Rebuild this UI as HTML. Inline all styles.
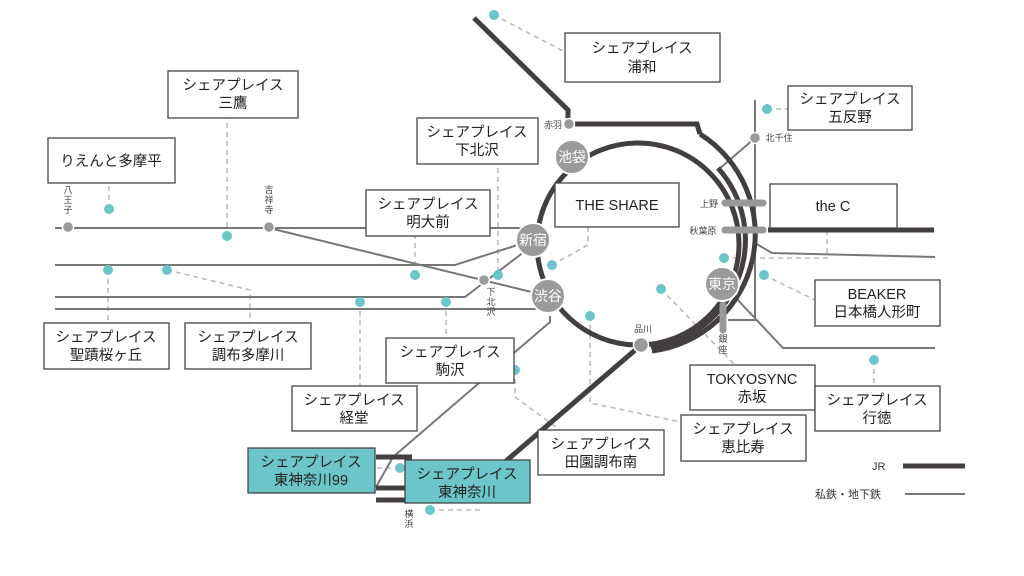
<!DOCTYPE html>
<html><head><meta charset="utf-8"><style>
html,body{margin:0;padding:0;background:#fff;}
svg{display:block;font-family:"Liberation Sans","Noto Sans CJK JP",sans-serif;}
.b{fill:#fff;stroke:#444;stroke-width:1.3}
.bt{font-size:14.5px;fill:#222;text-anchor:middle}
.d{stroke:#bbb;stroke-width:1.6;stroke-dasharray:5 4;fill:none}
.g{stroke:#777;stroke-width:2;fill:none}
.jr{stroke:#433e40;stroke-width:5;fill:none}
.dot{fill:#6cc5c9}
.st{font-size:9px;fill:#444;text-anchor:middle}
.big{fill:#9b9a9a;stroke:#fff;stroke-width:2}
.bigt{font-size:14px;fill:#fff;text-anchor:middle}
</style></head><body>
<svg width="1024" height="576" viewBox="0 0 1024 576">
<path class="d" d="M494,15 L565,52"/>
<path class="d" d="M767,109 L788,109"/>
<path class="d" d="M109,209 L109,183"/>
<path class="d" d="M227,236 L227,118"/>
<path class="d" d="M108,270 L108,323"/>
<path class="d" d="M167,270 L250,290 L250,323"/>
<path class="d" d="M415,275 L415,236"/>
<path class="d" d="M498,272 L498,164"/>
<path class="d" d="M552,265 L588,245 L588,227"/>
<path class="d" d="M360,302 L360,386"/>
<path class="d" d="M446,302 L446,338"/>
<path class="d" d="M590,316 L590,403 L681,422"/>
<path class="d" d="M661,289 L735,365"/>
<path class="d" d="M724,258 L827,258 L827,228"/>
<path class="d" d="M764,275 L815,300"/>
<path class="d" d="M874,360 L874,386"/>
<path class="d" d="M515,370 L515,397 L560,430"/>
<path class="d" d="M400,468 L375,468"/>
<path class="d" d="M430,510 L480,510"/>
<path class="g" d="M55,228 L533,228"/>
<path class="g" d="M269,228 L548,296"/>
<path class="g" d="M55,265 L455,265 L533,240"/>
<path class="g" d="M55,297 L465,297 L533,245"/>
<path class="g" d="M55,309 L548,309"/>
<path class="g" d="M550,316 L550,322 L393,457 L376,487"/>
<path class="g" d="M755,100 L755,320 L728,320"/>
<path class="g" d="M755,138 L718,170"/>
<path class="g" d="M755,243 L772,253 L935,257"/>
<path class="g" d="M735,297 L783,348 L935,348"/>
<path class="jr" d="M474,18 L568,110 L568,124 L697,124 L700,134"/>
<circle class="jr" cx="638" cy="244" r="101"/>
<path class="jr" d="M700,134 A118 118 0 0 1 652,351"/>
<path class="jr" d="M718,168 A108 108 0 0 1 651,347"/>
<path class="jr" d="M641,345 L470,492"/>
<path class="jr" d="M768,230 L934,230"/>
<path d="M376,457 L412,457 M376,488 L412,488 M376,500 L412,500" stroke="#433e40" stroke-width="5"/>
<path d="M725,203 L763,203 M725,230 L763,230" stroke="#999" stroke-width="7" stroke-linecap="round"/>
<path d="M723,305 L723,330" stroke="#999" stroke-width="7" stroke-linecap="round"/>
<g fill="#999" stroke="#fff" stroke-width="1.5">
<circle cx="68" cy="227" r="5.5"/><circle cx="269" cy="227" r="5.5"/>
<circle cx="569" cy="124" r="5.5"/><circle cx="755" cy="138" r="5.5"/>
<circle cx="484" cy="280" r="5.5"/><circle cx="641" cy="345" r="7.5"/>
</g>
<circle class="big" cx="572" cy="157" r="17"/><text class="bigt" x="572" y="162">池袋</text>
<circle class="big" cx="533" cy="240" r="17"/><text class="bigt" x="533" y="245">新宿</text>
<circle class="big" cx="548" cy="296" r="17"/><text class="bigt" x="548" y="301">渋谷</text>
<circle class="big" cx="722" cy="284" r="17"/><text class="bigt" x="722" y="289">東京</text>
<g class="st">
<text x="68" y="193">八</text><text x="68" y="203">王</text><text x="68" y="213">子</text>
<text x="269" y="193">吉</text><text x="269" y="203">祥</text><text x="269" y="213">寺</text>
<text x="553" y="128">赤羽</text><text x="779" y="141">北千住</text>
<text x="491" y="295">下</text><text x="491" y="305">北</text><text x="491" y="315">沢</text>
<text x="643" y="332">品川</text>
<text x="709" y="207">上野</text><text x="703" y="234">秋葉原</text>
<text x="723" y="342">銀</text><text x="723" y="353">座</text>
<text x="409" y="517">横</text><text x="409" y="527">浜</text>
</g>
<g class="dot">
<circle cx="494" cy="15" r="5"/><circle cx="767" cy="109" r="5"/><circle cx="109" cy="209" r="5"/>
<circle cx="227" cy="236" r="5"/><circle cx="108" cy="270" r="5"/><circle cx="167" cy="270" r="5"/>
<circle cx="415" cy="275" r="5"/><circle cx="498" cy="275" r="5"/><circle cx="552" cy="265" r="5"/>
<circle cx="360" cy="302" r="5"/><circle cx="446" cy="302" r="5"/><circle cx="590" cy="316" r="5"/>
<circle cx="661" cy="289" r="5"/><circle cx="724" cy="258" r="5"/><circle cx="764" cy="275" r="5"/>
<circle cx="874" cy="360" r="5"/><circle cx="515" cy="370" r="5"/><circle cx="400" cy="468" r="5"/>
<circle cx="430" cy="510" r="5"/>
</g>
<rect class="b" x="565" y="33" width="155" height="49"/><text class="bt" x="642" y="53">シェアプレイス</text><text class="bt" x="642" y="72">浦和</text>
<rect class="b" x="168" y="71" width="130" height="47"/><text class="bt" x="233" y="90">シェアプレイス</text><text class="bt" x="233" y="108">三鷹</text>
<rect class="b" x="48" y="138" width="127" height="45"/><text class="bt" x="111" y="166">りえんと多摩平</text>
<rect class="b" x="417" y="118" width="121" height="46"/><text class="bt" x="477" y="137">シェアプレイス</text><text class="bt" x="477" y="155">下北沢</text>
<rect class="b" x="788" y="86" width="124" height="44"/><text class="bt" x="850" y="104">シェアプレイス</text><text class="bt" x="850" y="122">五反野</text>
<rect class="b" x="366" y="190" width="124" height="46"/><text class="bt" x="428" y="209">シェアプレイス</text><text class="bt" x="428" y="227">明大前</text>
<rect class="b" x="555" y="183" width="124" height="44"/><text class="bt" x="617" y="210">THE SHARE</text>
<rect class="b" x="770" y="184" width="127" height="44"/><text class="bt" x="833" y="211">the C</text>
<rect class="b" x="815" y="280" width="125" height="46"/><text class="bt" x="877" y="299">BEAKER</text><text class="bt" x="877" y="317">日本橋人形町</text>
<rect class="b" x="44" y="323" width="125" height="46"/><text class="bt" x="106" y="342">シェアプレイス</text><text class="bt" x="106" y="360">聖蹟桜ヶ丘</text>
<rect class="b" x="185" y="323" width="126" height="46"/><text class="bt" x="248" y="342">シェアプレイス</text><text class="bt" x="248" y="360">調布多摩川</text>
<rect class="b" x="386" y="338" width="128" height="45"/><text class="bt" x="450" y="357">シェアプレイス</text><text class="bt" x="450" y="375">駒沢</text>
<rect class="b" x="292" y="386" width="125" height="45"/><text class="bt" x="354" y="405">シェアプレイス</text><text class="bt" x="354" y="423">経堂</text>
<rect class="b" x="690" y="365" width="125" height="45"/><text class="bt" x="752" y="384">TOKYOSYNC</text><text class="bt" x="752" y="402">赤坂</text>
<rect class="b" x="815" y="386" width="125" height="45"/><text class="bt" x="877" y="405">シェアプレイス</text><text class="bt" x="877" y="423">行徳</text>
<rect class="b" x="538" y="430" width="126" height="45"/><text class="bt" x="601" y="449">シェアプレイス</text><text class="bt" x="601" y="467">田園調布南</text>
<rect class="b" x="681" y="415" width="125" height="46"/><text class="bt" x="743" y="434">シェアプレイス</text><text class="bt" x="743" y="452">恵比寿</text>
<rect x="248" y="448" width="127" height="45" fill="#6cc5c9" stroke="#444" stroke-width="1.3"/><text class="bt" x="311" y="467">シェアプレイス</text><text class="bt" x="311" y="485">東神奈川99</text>
<rect x="405" y="460" width="125" height="43" fill="#6cc5c9" stroke="#444" stroke-width="1.3"/><text class="bt" x="467" y="479">シェアプレイス</text><text class="bt" x="467" y="497">東神奈川</text>
<text x="872" y="470" font-size="11" fill="#333">JR</text>
<path d="M903,466 L965,466" stroke="#433e40" stroke-width="5"/>
<text x="815" y="498" font-size="11" fill="#333">私鉄・地下鉄</text>
<path d="M905,494 L965,494" stroke="#777" stroke-width="2"/>
</svg>
</body></html>
